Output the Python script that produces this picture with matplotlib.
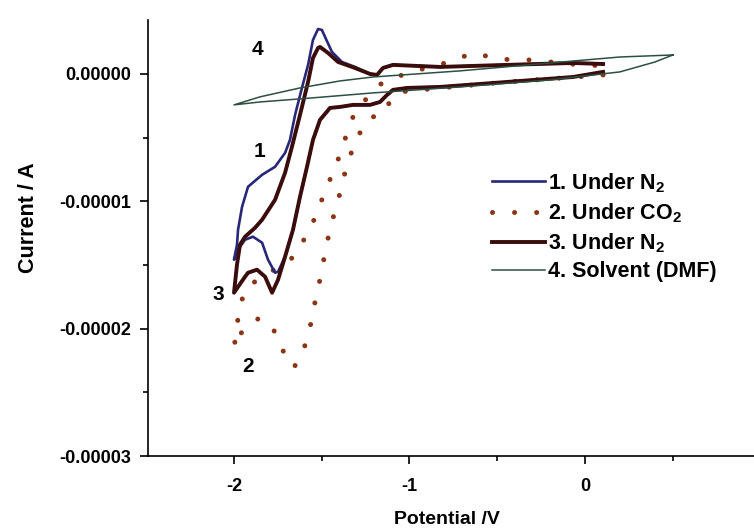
import numpy as np
import matplotlib
matplotlib.use('Agg')
import matplotlib.pyplot as plt
from matplotlib.ticker import MultipleLocator, FuncFormatter

plt.rcParams['font.family'] = ['Liberation Sans', 'DejaVu Sans']
plt.rcParams['font.weight'] = 'bold'
plt.rcParams['mathtext.fontset'] = 'custom'
plt.rcParams['mathtext.rm'] = 'Liberation Sans:bold'
plt.rcParams['mathtext.default'] = 'rm'

# potential (V) and current (uA)
# 1. under N2 : forward sweep 0.1 -> -2.0 V, then back
v1 = [0.103, -0.068, -0.444, -0.826, -1.014, -1.094, -1.128, -1.168, -1.225, -1.322,
      -1.396, -1.453, -1.510, -1.550, -1.584, -1.624, -1.664, -1.709, -1.749, -1.766,
      -1.806, -1.840, -1.892, -1.937, -1.977, -2.0,
      -1.983, -1.977, -1.954, -1.920, -1.840, -1.766, -1.709, -1.681, -1.652, -1.613,
      -1.578, -1.550, -1.521, -1.499, -1.481, -1.442, -1.385, -1.311, -1.225, -1.185,
      -1.151, -1.094, -0.826, -0.444, -0.068, 0.103]
i1 = [0.16, -0.24, -0.63, -1.02, -1.10, -1.25, -1.65, -2.20, -2.43, -2.43,
      -2.59, -2.67, -3.61, -5.18, -7.29, -9.65, -12.24, -14.35, -15.53, -15.61,
      -14.59, -13.25, -12.78, -13.02, -13.80, -14.59,
      -13.41, -12.24, -10.43, -8.86, -7.92, -7.29, -6.20, -5.18, -3.22, -1.10,
      0.71, 2.67, 3.53, 3.45, 2.90, 1.73, 0.94, 0.55, 0.00, -0.08,
      0.47, 0.71, 0.55, 0.71, 0.86, 0.78]

# 2. under CO2
v2 = [0.103, -0.444, -0.826, -1.054, -1.111, -1.134, -1.236, -1.299, -1.345, -1.379,
      -1.407, -1.442, -1.470, -1.493, -1.516, -1.544, -1.567, -1.601, -1.658, -1.721,
      -1.772, -1.852, -1.943, -2.0,
      -1.983, -1.972, -1.926, -1.835, -1.744, -1.658, -1.595, -1.538, -1.493, -1.442,
      -1.396, -1.356, -1.311, -1.236, -1.157, -0.997, -0.826, -0.729, -0.610, -0.536,
      -0.416, -0.308, -0.085, 0.103]
i2 = [-0.08, -0.63, -1.10, -1.41, -2.04, -2.98, -3.53, -5.02, -6.67, -8.31,
      -9.96, -11.61, -13.25, -14.90, -16.55, -18.27, -19.92, -21.57, -23.06, -21.73,
      -20.16, -19.14, -19.92, -21.49,
      -20.00, -18.35, -16.71, -15.92, -15.14, -14.35, -12.86, -11.29, -9.65, -7.92,
      -6.35, -4.63, -2.98, -1.80, -0.71, 0.16, 0.71, 1.25, 1.65, 1.25,
      1.10, 1.10, 0.78, 0.63]

# 3. under N2 (second scan)
v3 = [0.103, -0.068, -0.444, -0.826, -1.014, -1.094, -1.128, -1.168, -1.225, -1.322,
      -1.396, -1.453, -1.510, -1.550, -1.584, -1.624, -1.664, -1.709, -1.749, -1.783,
      -1.823, -1.869, -1.920, -1.937, -2.0,
      -1.983, -1.966, -1.937, -1.880, -1.840, -1.766, -1.709, -1.670, -1.624, -1.578,
      -1.550, -1.521, -1.510, -1.464, -1.407, -1.311, -1.225, -1.185, -1.151, -1.094,
      -0.826, -0.444, -0.068, 0.103]
i3 = [0.16, -0.24, -0.63, -1.02, -1.10, -1.25, -1.65, -2.20, -2.43, -2.43,
      -2.59, -2.67, -3.61, -5.18, -7.29, -9.65, -12.24, -14.35, -16.16, -17.18,
      -15.92, -15.37, -15.61, -15.92, -17.18,
      -14.98, -13.41, -12.78, -12.08, -11.45, -9.88, -7.76, -5.73, -3.22, -0.63,
      1.25, 2.04, 2.12, 1.65, 0.94, 0.47, 0.00, -0.08, 0.47, 0.71,
      0.55, 0.71, 0.86, 0.78]

# 4. solvent (DMF)
v4 = [0.501, 0.399, 0.199, -0.199, -0.712, -1.208, -1.624, -1.852, -2.0,
      -1.852, -1.624, -1.396, -1.208, -0.712, -0.199, 0.199, 0.501]
i4 = [1.49, 0.94, 0.16, -0.47, -1.02, -1.49, -1.96, -2.20, -2.43,
      -1.80, -1.10, -0.55, -0.24, 0.24, 0.86, 1.33, 1.49]

labels = ['1. Under N$_2$', '2. Under CO$_2$', '3. Under N$_2$', '4. Solvent (DMF)']
curve_tags = ['1', '2', '3', '4']
tag_v = [-1.852, -1.920, -2.091, -1.869]
tag_i = [-6.12, -22.98, -17.33, 1.88]

fig = plt.figure(figsize=(7.54, 5.31), dpi=100)
ax = fig.add_axes([148/754, 1-456/531, (754-148)/754, (456-20)/531])

l2, = ax.plot(v2, np.array(i2)*1e-6, color='#8a3515', lw=3.6,
              ls=(0, (0.01, 4.4)), dash_capstyle='round', zorder=1)
l1, = ax.plot(v1, np.array(i1)*1e-6, color='#28287a', lw=1.9, zorder=2)
l3, = ax.plot(v3, np.array(i3)*1e-6, color='#3a0c0c', lw=2.8, zorder=3)
l4, = ax.plot(v4, np.array(i4)*1e-6, color='#2c5040', lw=1.1, zorder=4)

for t, x, y in zip(curve_tags, tag_v, tag_i):
    ax.text(x, y*1e-6, t, fontsize=15, ha='center', va='center')

ax.set_xlim(-2.49, 0.963)
ax.set_ylim(-3e-5, 4.235e-6)
ax.spines['top'].set_visible(False)
ax.spines['right'].set_visible(False)
ax.spines['left'].set_linewidth(1.2)
ax.spines['bottom'].set_linewidth(1.2)

ax.xaxis.set_major_locator(MultipleLocator(1))
ax.xaxis.set_minor_locator(MultipleLocator(0.5))
ax.yaxis.set_major_locator(MultipleLocator(1e-5))
ax.yaxis.set_minor_locator(MultipleLocator(5e-6))
ax.xaxis.set_major_formatter(FuncFormatter(lambda v, p: '%d' % round(v)))
ax.yaxis.set_major_formatter(FuncFormatter(lambda v, p: '%.5f' % v if abs(v) > 1e-9 else '0.00000'))
ax.tick_params(which='major', length=6, width=1.2, labelsize=13)
ax.tick_params(which='minor', length=3.5, width=1.2)
ax.tick_params(axis='x', which='major', pad=10)
ax.tick_params(axis='y', which='major', pad=6)

fig.text(29/754, 1-218/531, 'Current / A', rotation=90, ha='center', va='center', fontsize=15.5)
fig.text(447/754, 1-520/531, 'Potential /V', ha='center', va='center', fontsize=14)

ax.legend([l1, l2, l3, l4], labels, loc='upper left', bbox_to_anchor=(492/754, 1-171/531),
          bbox_transform=fig.transFigure, frameon=False, fontsize=15.5,
          handlelength=2.45, handletextpad=0.15, labelspacing=0.3, borderpad=0, borderaxespad=0)

fig.savefig('out.png', dpi=100)
